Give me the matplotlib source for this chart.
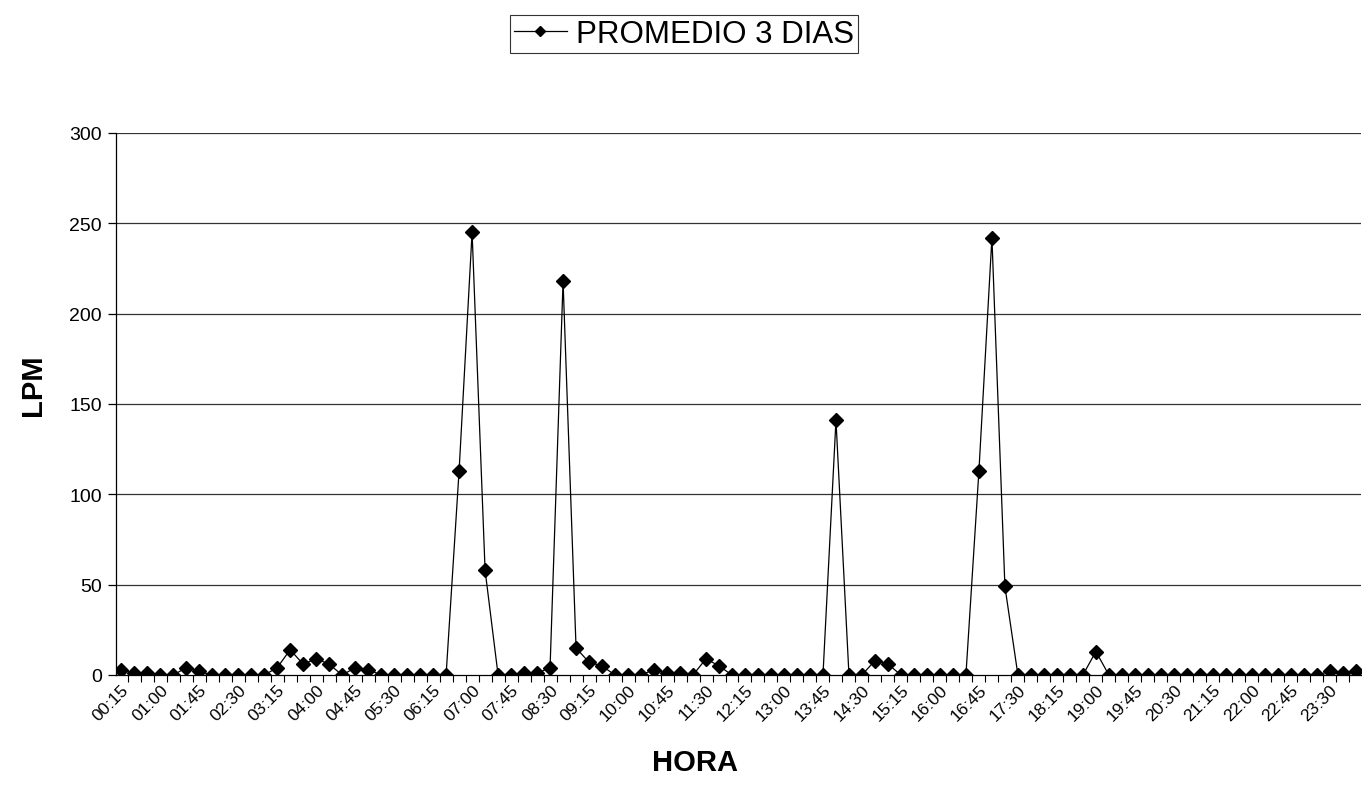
import numpy as np
import matplotlib
matplotlib.use("Agg")
from matplotlib import pyplot as plt

plt.rcParams['font.family'] = ['Liberation Sans', 'DejaVu Sans']

# 15-minute intervals, 00:15 .. 24:00
horas = [f"{(15 * (i + 1)) // 60:02d}:{(15 * (i + 1)) % 60:02d}" for i in range(96)]

lpm = [3, 1, 1, 0, 0, 4, 2, 0, 0, 0, 0, 0,
       4, 14, 6, 9, 6, 0, 4, 3, 0, 0, 0, 0,
       0, 0, 113, 245, 58, 0, 0, 1, 1, 4, 218, 15,
       7, 5, 0, 0, 0, 3, 1, 1, 0, 9, 5, 0,
       0, 0, 0, 0, 0, 0, 0, 141, 0, 0, 8, 6,
       0, 0, 0, 0, 0, 0, 113, 242, 49, 0, 0, 0,
       0, 0, 0, 13, 0, 0, 0, 0, 0, 0, 0, 0,
       0, 0, 0, 0, 0, 0, 0, 0, 0, 2, 1, 2]

serie = "PROMEDIO 3 DIAS"
yticks = [0, 50, 100, 150, 200, 250, 300]

fig = plt.figure(figsize=(13.62, 8.04), dpi=100)
ax = fig.add_axes([116 / 1362, 1 - 676 / 804, 1245 / 1362, 542 / 804])

x = np.arange(len(lpm))
ax.plot(x, lpm, color='black', lw=0.9, marker='D', markersize=7,
        markerfacecolor='black', markeredgecolor='black', label=serie)

ax.set_xlim(-0.4, 95.4)
ax.set_ylim(0, 300)
ax.set_yticks(yticks)
ax.tick_params(axis='y', labelsize=14, length=6, width=0.9, direction='out', pad=4)
for y in yticks[1:]:
    ax.axhline(y, color='#333333', lw=0.9, zorder=0)

# labels every 3rd category, tick marks at every category boundary
ax.set_xticks(x[::3])
ax.set_xticklabels(horas[::3], rotation=45, ha='right', va='top',
                   rotation_mode='anchor', fontsize=12.5)
ax.tick_params(axis='x', length=0, pad=5)
ax.set_xticks(np.arange(0.5, 95.5, 1), minor=True)
ax.tick_params(axis='x', which='minor', length=5, width=0.8, direction='out')

for s in ['top', 'right']:
    ax.spines[s].set_visible(False)
for s in ['left', 'bottom']:
    ax.spines[s].set_linewidth(0.9)
    ax.spines[s].set_color('black')

fig.text(33 / 1362, 1 - 385 / 804, "LPM", rotation=90, fontsize=21,
         fontweight='bold', ha='center', va='center')
fig.text(695 / 1362, 1 - 763 / 804, "HORA", fontsize=21,
         fontweight='bold', ha='center', va='center')

leg = fig.legend(loc='center', bbox_to_anchor=(684 / 1362, 1 - 35 / 804),
                 fontsize=22.5, frameon=True, fancybox=False, handlelength=1.7,
                 borderpad=0.12, handletextpad=0.3, borderaxespad=0)
leg.get_frame().set_edgecolor('black')
leg.get_frame().set_linewidth(0.8)
for h in leg.legend_handles:
    h.set_markersize(5)

fig.savefig("out.png", dpi=100)
